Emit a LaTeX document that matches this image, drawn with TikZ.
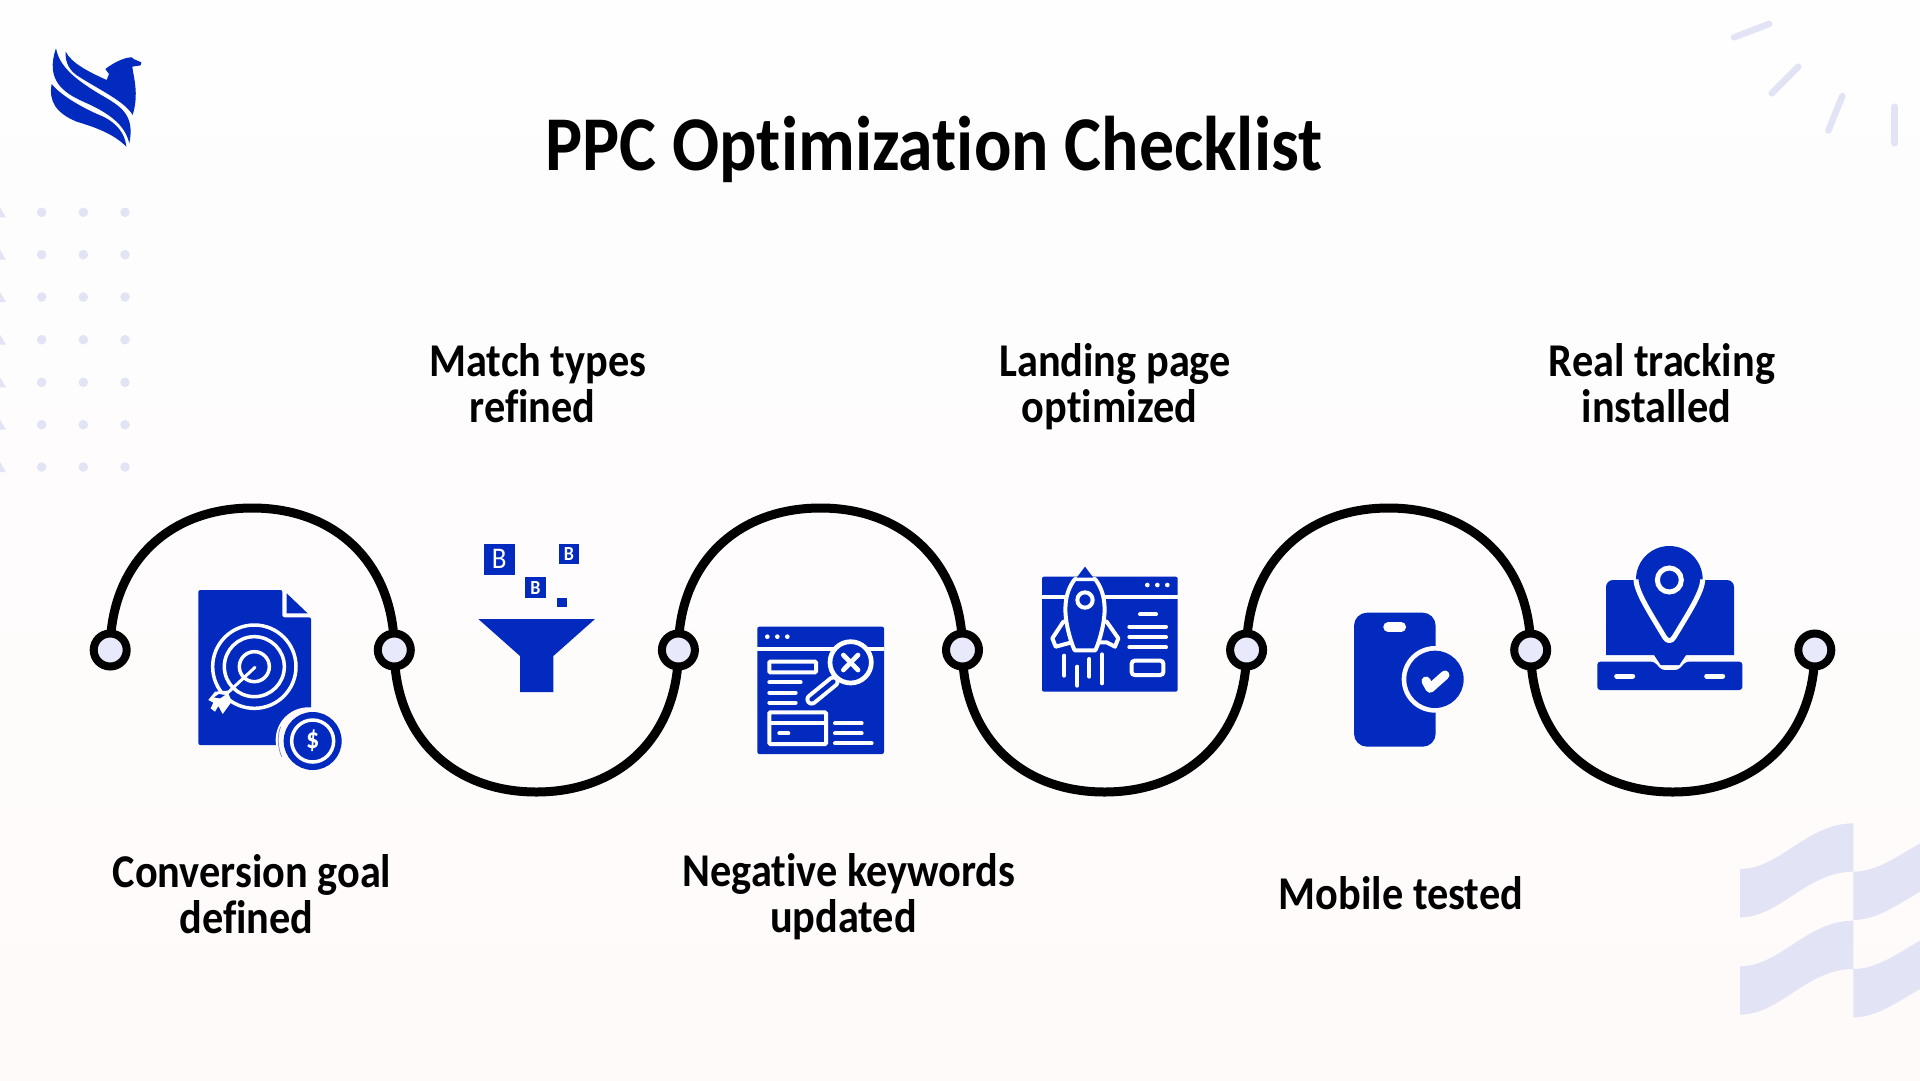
\documentclass[tikz,border=0pt]{standalone}
\usepackage{fontspec}
\usetikzlibrary{backgrounds}
\setmainfont[Ligatures=NoCommon,FakeStretch=0.9]{Carlito}
\definecolor{brandblue}{RGB}{3,42,190}
\definecolor{softlav}{RGB}{226,228,245}
\definecolor{ringfill}{RGB}{233,233,252}
\definecolor{pagetop}{RGB}{254,254,255}
\definecolor{pagelow}{RGB}{254,250,249}

\begin{document}
\begin{tikzpicture}[
  x=1pt, y=-1pt,
  ringnode/.style={circle, draw=black, fill=ringfill, line width=8pt, minimum size=33pt, inner sep=0pt},
  wavearc/.style={black, line width=9pt, looseness=1.08},
  steplabel/.style={align=center, font=\fontsize{47}{46.5}\selectfont\bfseries, inner sep=0pt,
    execute at begin node=\strut, execute at end node=\strut},
  wline/.style={white, line width=4pt, line cap=round},
  dashmark/.style={softlav, line width=6.5pt, line cap=round}
]

% fundo e enfeites
\begin{scope}[on background layer]
  \fill[top color=pagetop, bottom color=pagelow] (0,0) rectangle (1920,1080);
\end{scope}
\useasboundingbox (0,0) rectangle (1920,1080);

\foreach \r in {212.3,254.7,297,339.7,382.3,424.7,467} {
  \foreach \c in {41.7,83.3,125}
    \fill[softlav] (\c,\r) circle[radius=4.8];
  \fill[softlav] (0,\r-5) -- (6,\r+5) -- (0,\r+5) -- cycle;
}
\draw[dashmark] (1734,37.3) -- (1769,24);
\draw[dashmark] (1771.7,93.3) -- (1798.3,66.7);
\draw[dashmark] (1828.3,130.7) -- (1842.3,96);
\draw[dashmark] (1894.3,106.7) -- (1894.3,143.3);

\begin{scope}[shift={(1720,800)}, scale=1/3]
  \foreach \d in {0,292} {
    \fill[softlav] (60,207+\d) .. controls (180,207+\d) and (260,70+\d) .. (400,70+\d)
      -- (400,215+\d) .. controls (260,215+\d) and (180,352+\d) .. (60,352+\d) -- cycle;
    \fill[softlav] (400,215+\d) .. controls (470,215+\d) and (530,170+\d) .. (600,130+\d)
      -- (600,275+\d) .. controls (530,315+\d) and (470,360+\d) .. (400,360+\d) -- cycle;
  }
\end{scope}

% logo
\begin{scope}[shift={(0,0)}, scale=1/3]
  \fill[brandblue] (197,155) .. controls (215,190) and (265,215) .. (320,240)
    -- (327,222) -- (316,207) .. controls (345,185) and (375,172) .. (395,172)
    -- (403,178) -- (424,187) -- (422,196) -- (397,200)
    .. controls (400,230) and (418,280) .. (398,345)
    .. controls (375,305) and (300,270) .. (240,232)
    .. controls (210,215) and (195,190) .. (197,155) -- cycle;
  \fill[brandblue] (168,145) .. controls (178,195) and (215,232) .. (300,283)
    .. controls (365,320) and (405,345) .. (388,430)
    .. controls (375,375) and (330,340) .. (250,305)
    .. controls (190,278) and (135,240) .. (168,145) -- cycle;
  \fill[brandblue] (155,252) .. controls (185,290) and (260,330) .. (310,350)
    .. controls (350,370) and (375,400) .. (379,440)
    .. controls (340,400) and (280,380) .. (230,365)
    .. controls (170,340) and (145,305) .. (155,252) -- cycle;
\end{scope}

% titulo
\node[font=\fontsize{77.5}{77.5}\selectfont\bfseries, inner sep=0pt] (title) at (934,149) {PPC Optimization Checklist};

% pontos e curva
\foreach \i in {1,...,7}
  \node[ringnode] (p\i) at ({110.2+(\i-1)*284.1},650) {};
\foreach \i in {1,3,5}
  \coordinate (t\i) at ({110.2+(\i-0.5)*284.1},508);
\foreach \i in {2,4,6}
  \coordinate (t\i) at ({110.2+(\i-0.5)*284.1},792);

\begin{scope}[on background layer]
  \foreach \i/\j in {1/2,3/4,5/6} {
    \draw[wavearc] (p\i.center) to[out=90,in=180] (t\i) to[out=0,in=90] (p\j.center);
  }
  \foreach \i/\j in {2/3,4/5,6/7} {
    \draw[wavearc] (p\i.center) to[out=270,in=180] (t\i) to[out=0,in=270] (p\j.center);
  }
\end{scope}

% rotulos
\node[steplabel] (goal) at (252,901) {Conversion goal\\defined\hspace*{11pt}};
\node[steplabel] (match) at (538,390) {Match types\\refined\hspace*{11pt}};
\node[steplabel] (negative) at (849,900) {Negative keywords\\updated\hspace*{11pt}};
\node[steplabel] (landing) at (1115,390) {Landing page\\optimized\hspace*{11pt}};
\node[steplabel] (mobile) at (1401,900) {Mobile tested};
\node[steplabel] (tracking) at (1662,390) {Real tracking\\installed\hspace*{11pt}};

% alvo
\begin{scope}[shift={(170,560)}, scale=1/3]
  \fill[brandblue, rounded corners=2pt] (85,90) -- (337,90) -- (337,172) -- (423,172) -- (423,555) -- (85,555) -- cycle;
  \fill[brandblue] (350,100) -- (413,160) -- (350,160) -- cycle;
  \foreach \r in {125,90,45}
    \draw[white, line width=3.5pt] (253,320) circle[radius=\r];
  \draw[wline, line width=3pt] (255,322) -- (150,420);
  \fill[white] (172,392) -- (135,395) -- (115,420) -- (130,428) -- (122,445) -- (135,455) -- (145,438) -- (158,462) -- (185,425) -- cycle;
  \fill[brandblue] (150,415) -- (132,412) -- (147,402) -- (165,405) -- cycle;
  \fill[pagelow] (415,540) circle[radius=98];
  \fill[brandblue] (428,543) circle[radius=87];
  \draw[white, line width=3.5pt] (428,543) circle[radius=63];
  \draw[brandblue!55, line width=.7pt] (332,500) .. controls (322,525) and (322,560) .. (335,590);
  \node[white, inner sep=0pt, font=\fontsize{29}{29}\selectfont\bfseries] (dollar) at (428,541) {\$};
\end{scope}

% funil
\begin{scope}[shift={(460,520)}, scale=1/3]
  \fill[brandblue] (55,297) -- (405,297) -- (280,408) -- (280,516) -- (180,516) -- (180,408) -- cycle;
  \fill[brandblue] (72,72) rectangle (164,164);
  \fill[brandblue] (297,72) rectangle (358,133);
  \fill[brandblue] (195,172) rectangle (257,234);
  \fill[brandblue] (292,234) rectangle (320,260);
  \node[white, inner sep=0pt, font=\fontsize{30}{30}\selectfont] (coina) at (118,118) {B};
  \node[white, inner sep=0pt, font=\fontsize{20}{20}\selectfont\bfseries] (coinb) at (327,103) {B};
  \node[white, inner sep=0pt, font=\fontsize{20}{20}\selectfont\bfseries] (coinc) at (226,203) {B};
\end{scope}

% janela com lupa
\begin{scope}[shift={(740,610)}, scale=1/3]
  \fill[brandblue, rounded corners=2pt] (52,50) rectangle (432,432);
  \draw[wline, line cap=butt] (52,118) -- (432,118);
  \foreach \x in {82,112,142}
    \fill[white] (\x,80) circle[radius=7];
  \draw[wline, rounded corners=1pt] (88,155) rectangle (228,187);
  \draw[wline] (88,217) -- (182,217);
  \draw[wline] (88,248) -- (167,248);
  \draw[wline] (88,278) -- (167,278);
  \draw[wline, rounded corners=1pt] (88,307) rectangle (258,402);
  \draw[wline, line cap=butt] (88,338) -- (258,338);
  \draw[wline] (118,370) -- (145,370);
  \draw[wline] (285,340) -- (365,340);
  \draw[wline] (285,370) -- (365,370);
  \draw[wline] (285,400) -- (395,400);
  \draw[white, line width=12.5pt, line cap=round] (280,215) -- (215,268);
  \draw[brandblue, line width=4.5pt, line cap=round] (280,215) -- (215,268);
  \draw[white, fill=brandblue, line width=4.7pt] (332,157) circle[radius=62];
  \draw[wline, line width=4.7pt] (310,135) -- (354,180);
  \draw[wline, line width=4.7pt] (354,135) -- (310,180);
\end{scope}

% foguete
\begin{scope}[shift={(1030,555)}, scale=1/3]
  \fill[brandblue, rounded corners=2pt] (36,65) rectangle (443,410);
  \draw[wline, line cap=butt] (36,125) -- (443,125);
  \foreach \x in {352,382,412}
    \fill[white] (\x,90) circle[radius=7];
  \draw[wline] (330,178) -- (378,178);
  \draw[wline] (298,215) -- (408,215);
  \draw[wline] (298,246) -- (408,246);
  \draw[wline] (298,277) -- (408,277);
  \draw[wline, rounded corners=3pt] (305,317) rectangle (400,360);
  \draw[wline, fill=brandblue, line join=round] (100,200) -- (67,250) -- (77,275) -- (125,262) -- (230,262) -- (255,275) -- (265,250) -- (230,200) -- cycle;
  \draw[wline, fill=brandblue, line join=round] (135,72) .. controls (105,110) and (92,170) .. (128,272) -- (134,286) -- (196,286) -- (202,272) .. controls (238,170) and (225,110) .. (195,72) -- cycle;
  \fill[brandblue] (165,35) -- (190,68) -- (140,68) -- cycle;
  \draw[wline] (165,135) circle[radius=23];
  \draw[wline] (103,302) -- (103,362);
  \draw[wline] (142,335) -- (142,392);
  \draw[wline] (178,312) -- (178,365);
  \draw[wline] (216,298) -- (216,385);
\end{scope}

% celular
\begin{scope}[shift={(1340,600)}, scale=1/3]
  \fill[brandblue, rounded corners=13pt] (42,38) rectangle (287,440);
  \draw[white, line width=9.5pt, line cap=round] (144,81) -- (184,81);
  \fill[pagelow] (285,238) circle[radius=100];
  \fill[brandblue] (285,238) circle[radius=86];
  \draw[white, line width=9pt, line cap=round, line join=round] (258,243) -- (270,265) -- (315,225);
\end{scope}

% notebook com pino
\begin{scope}[shift={(1580,530)}, scale=1/3]
  \fill[brandblue, rounded corners=7pt] (78,375) -- (78,150) -- (462,150) -- (462,375) [sharp corners] -- (462,375) -- (318,375) -- (298,405) -- (242,405) -- (222,375) -- (78,375) -- cycle;
  \fill[brandblue, rounded corners=3pt] (52,395) -- (222,395) -- (245,420) -- (295,420) -- (318,395) -- (487,395) -- (487,480) -- (52,480) -- cycle;
  \draw[wline, line width=5pt] (110,438) -- (158,438);
  \draw[wline, line width=5pt] (380,438) -- (428,438);
  \coordinate (pintop) at (268,48);
  \draw[white, fill=brandblue, line width=5pt, line join=round] (168,148) to[out=90,in=180] (pintop) to[out=0,in=90] (368,148)
    .. controls (368,185) and (325,250) .. (282,322) .. controls (275,335) and (261,335) .. (254,322)
    .. controls (211,250) and (168,185) .. (168,148) -- cycle;
  \fill[brandblue, draw=none] (168,148) to[out=90,in=180] (pintop) to[out=0,in=90] (368,148) -- cycle;
  \draw[white, line width=5pt] (268,150) circle[radius=36];
\end{scope}

\end{tikzpicture}
\end{document}
